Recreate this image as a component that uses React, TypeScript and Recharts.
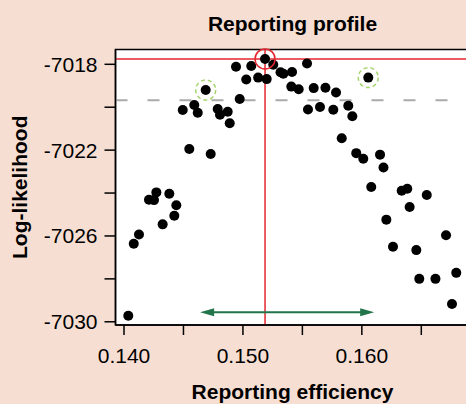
import React from "react";
import {
	ScatterChart,
	Scatter,
	XAxis,
	YAxis,
	ReferenceLine,
	ReferenceDot,
	ReferenceArea,
} from "recharts";

// reporting efficiency (x) and log-likelihood (y) of each profile run
const efficiency = [
	0.14036, 0.14082, 0.14126, 0.1421, 0.14252, 0.14272, 0.14325, 0.14381, 0.14423, 0.1444,
	0.14494, 0.14549, 0.14591, 0.1462, 0.14687, 0.14729, 0.14788, 0.14807, 0.14872, 0.14889,
	0.14942, 0.14973, 0.15028, 0.1507, 0.15128, 0.15186, 0.152, 0.15255, 0.15316, 0.1534,
	0.15407, 0.15413, 0.15469, 0.15539, 0.15547, 0.15595, 0.15648, 0.15694, 0.1576, 0.15783,
	0.15831, 0.15886, 0.1592, 0.15953, 0.16012, 0.16054, 0.16079, 0.16153, 0.16182, 0.16206,
	0.16262, 0.16335, 0.16382, 0.16402, 0.16458, 0.16483, 0.16546, 0.16619, 0.16708, 0.16758,
	0.16794,
];
const logLik = [
	-7029.72, -7026.36, -7025.93, -7024.31, -7024.33, -7023.97, -7025.46, -7024.03, -7025.06, -7024.57,
	-7020.13, -7021.95, -7019.9, -7020.26, -7019.2, -7022.18, -7020.08, -7020.35, -7020.21, -7020.75,
	-7018.11, -7019.62, -7018.71, -7018.08, -7018.62, -7017.75, -7018.69, -7018.02, -7018.37, -7018.44,
	-7019.04, -7018.36, -7019.16, -7017.96, -7020.11, -7019.11, -7019.99, -7019.09, -7020.12, -7019.31,
	-7021.45, -7019.93, -7020.42, -7022.14, -7022.4, -7018.62, -7023.72, -7022.21, -7022.81, -7025.24,
	-7026.5, -7023.89, -7023.8, -7024.65, -7026.66, -7028.0, -7024.09, -7028.0, -7025.97, -7029.17,
	-7027.72,
];

const xTicks = [0.14, 0.145, 0.15, 0.155, 0.16, 0.165];
const xLabelled = [0.14, 0.15, 0.16];
const yTicks = [-7030, -7028, -7026, -7024, -7022, -7020, -7018];
const yLabelled = [-7030, -7026, -7022, -7018];

// maximum likelihood estimate, 95% cutoff and confidence interval
const mle = { x: 0.15186, y: -7017.75 };
const cutoff = -7019.67;
const ciLow = 0.1464;
const ciHigh = 0.16104;
const ciY = -7029.55;
const highlighted = [
	{ x: 0.14687, y: -7019.2 },
	{ x: 0.16054, y: -7018.62 },
];

const data = efficiency.map((x, i) => ({ x, y: logLik[i] }));

const xDomain = [0.139285, 0.169053];
const yDomain = [-7030.15, -7017.31];

const RED = "#e3262e";
const GREEN = "#22744a";
const FS = 21;

const Dot = (props: any) => <circle cx={props.cx} cy={props.cy} r={5} fill="#000" />;

const Arrow = (props: any) => {
	const { x1, y1, x2 } = props;
	const len = 14;
	const h = 4;
	return (
		<g>
			<line x1={x1 + 6} y1={y1} x2={x2 - 6} y2={y1} stroke={GREEN} strokeWidth={2} />
			<polygon points={`${x1},${y1} ${x1 + len},${y1 - h} ${x1 + len},${y1 + h}`} fill={GREEN} />
			<polygon points={`${x2},${y1} ${x2 - len},${y1 - h} ${x2 - len},${y1 + h}`} fill={GREEN} />
		</g>
	);
};

const App = () => {
	return (
		<div
			style={{
				position: "absolute",
				left: 0,
				top: 0,
				width: 466,
				height: 404,
				overflow: "hidden",
				background: "#f6ded2",
				fontFamily: "'Liberation Sans', Arial, sans-serif",
			}}
		>
			<div
				style={{
					position: "absolute",
					left: 115.5,
					width: 354,
					top: 12,
					lineHeight: "24px",
					textAlign: "center",
					fontWeight: "bold",
					fontSize: FS,
					color: "#000",
				}}
			>
				Reporting profile
			</div>
			<ScatterChart
				width={480}
				height={404}
				margin={{ top: 49.5, right: 10.5, bottom: 0, left: 0.5 }}
			>
				<ReferenceArea
					x1={xDomain[0]}
					x2={xDomain[1]}
					y1={yDomain[0]}
					y2={yDomain[1]}
					fill="#fff"
					fillOpacity={1}
					stroke="#000"
					strokeWidth={1.5}
				/>
				<XAxis
					type="number"
					dataKey="x"
					domain={xDomain}
					allowDataOverflow
					ticks={xTicks}
					tickFormatter={(v: number) =>
						xLabelled.some((t) => Math.abs(t - v) < 1e-6) ? v.toFixed(3) : ""
					}
					height={79}
					tickSize={10}
					tickMargin={13}
					axisLine={{ stroke: "#000", strokeWidth: 1.5 }}
					tickLine={{ stroke: "#000", strokeWidth: 1.5 }}
					tick={{ fontSize: FS, fill: "#000" }}
					interval={0}
					label={{
						value: "Reporting efficiency",
						position: "center",
						dy: 27,
						fontSize: FS,
						fontWeight: "bold",
						fill: "#000",
					}}
				/>
				<YAxis
					type="number"
					dataKey="y"
					domain={yDomain}
					allowDataOverflow
					ticks={yTicks}
					tickFormatter={(v: number) => (yLabelled.includes(v) ? String(v) : "")}
					width={115}
					tickSize={11}
					tickMargin={7}
					axisLine={{ stroke: "#000", strokeWidth: 1.5 }}
					tickLine={{ stroke: "#000", strokeWidth: 1.5 }}
					tick={{ fontSize: FS, fill: "#000" }}
					interval={0}
					label={{
						value: "Log-likelihood",
						angle: -90,
						position: "center",
						dx: -38,
						fontSize: FS,
						fontWeight: "bold",
						fill: "#000",
					}}
				/>
				<ReferenceLine y={cutoff} stroke="#aaaaaa" strokeWidth={2} strokeDasharray="12 20" />
				<ReferenceLine x={mle.x} stroke={RED} strokeWidth={1.5} />
				<ReferenceLine y={mle.y} stroke={RED} strokeWidth={1.5} />
				<ReferenceLine
					segment={[
						{ x: ciLow, y: ciY },
						{ x: ciHigh, y: ciY },
					]}
					shape={Arrow}
				/>
				<Scatter data={data} shape={Dot} isAnimationActive={false} />
				<ReferenceDot x={mle.x} y={mle.y} r={10} fill="none" stroke={RED} strokeWidth={1.5} />
				{highlighted.map((p, i) => (
					<ReferenceDot
						key={i}
						x={p.x}
						y={p.y}
						r={10}
						fill="none"
						stroke="#a6d46c"
						strokeWidth={1.5}
						strokeDasharray="4 3"
					/>
				))}
			</ScatterChart>
		</div>
	);
};

export default App;
